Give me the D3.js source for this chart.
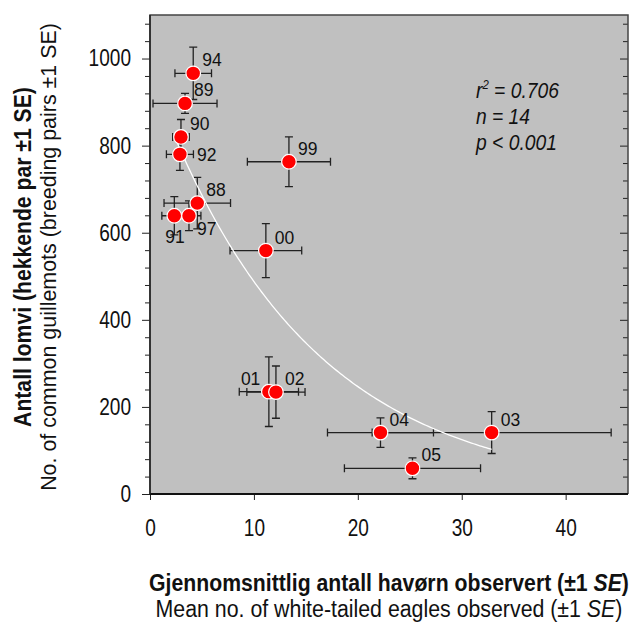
<!DOCTYPE html>
<html>
<head>
<meta charset="utf-8">
<script src="https://cdn.jsdelivr.net/npm/d3@7"></script>
<style>
  body { margin: 0; background: #fff; }
  svg text { font-family: "Liberation Sans", Arial, sans-serif; fill: #111; }
  .tick line { stroke: #222; }
</style>
</head>
<body>
<div id="chartContainer"></div>
<script>
// Values
const years = ['88', '89', '90', '91', '92', '94', '97', '99', '00', '01', '02', '03', '04', '05'];
const eagles = [4.55, 3.37, 2.98, 2.34, 2.88, 4.16, 3.75, 13.37, 11.15, 11.44, 12.12, 32.88, 22.18, 25.26];
const eaglesSE = [3.2, 3.08, 0.8, 1.2, 1.3, 1.76, 1.15, 4.0, 3.45, 2.85, 2.8, 11.5, 5.1, 6.55];
const guillemots = [668, 897, 820, 639, 780, 966, 639, 763, 559, 235, 234, 141, 141, 59];
const guillemotsSE = [59, 23, 40, 44, 37, 60, 34, 57, 62, 80, 60, 48, 34, 24];
const xTicks = [0, 10, 20, 30, 40];
const yTicks = [0, 200, 400, 600, 800, 1000];
// fitted curve y = a * exp(-b * x)
const fitA = 965;
const fitB = 0.0682;
const statLines = ['r2 = 0.706', 'n = 14', 'p < 0.001'];

// Dimensions
const width = 633;
const height = 626;
const margin = { top: 15, left: 150, right: 5, bottom: 132 };
const w = width - margin.left - margin.right;
const h = height - margin.top - margin.bottom;

// label placement next to each point (dx, dy from centre)
const labelOffset = { '92': [17, 7], '91': [-9, 27], '97': [8, 19], '01': [-28, -7] };

// the figure uses a condensed face: squeeze short labels to the measured width
function squeeze(sel, len) {
  sel.attr('textLength', len).attr('lengthAdjust', 'spacingAndGlyphs');
}
// longer texts: scale horizontally so the text spans len pixels
function condense(text, len) {
  const s = len / text.node().getComputedTextLength();
  text.attr('transform', `scale(${s},1)`);
}

const svg = d3
  .select('#chartContainer')
  .append('svg')
  .attr('width', width)
  .attr('height', height);

const g = svg.append('g').attr('transform', `translate(${margin.left},${margin.top})`);

const x = d3.scaleLinear().domain([0, 46]).range([0, w]);
const y = d3.scaleLinear().domain([0, 1100]).range([h, 0]);

const data = years.map((yr, i) => ({
  year: yr,
  x: eagles[i],
  xse: eaglesSE[i],
  y: guillemots[i],
  yse: guillemotsSE[i]
}));

// plot background
g.append('rect')
  .attr('width', w)
  .attr('height', h)
  .attr('fill', '#c0c0c0');

// Axes
const minorY = d3.range(0, 1100, 40).filter(v => v % 200 !== 0);

g.append('g')
  .call(d3.axisLeft(y).tickValues(minorY).tickSize(5).tickFormat(''))
  .call(a => a.select('.domain').remove());
g.append('g')
  .attr('class', 'y axis')
  .call(d3.axisLeft(y).tickValues(yTicks).tickSize(8).tickPadding(11).tickSizeOuter(0).tickFormat(d3.format('d')))
  .call(a => a.select('.domain').remove())
  .selectAll('text')
  .style('font-size', '23px')
  .each(function() { squeeze(d3.select(this), this.textContent.length * 10.6); });

// right side, ticks pointing inward
g.append('g')
  .attr('transform', `translate(${w},0)`)
  .call(d3.axisLeft(y).tickValues(minorY).tickSize(5).tickFormat(''))
  .call(a => a.select('.domain').remove());
g.append('g')
  .attr('transform', `translate(${w},0)`)
  .call(d3.axisLeft(y).tickValues(yTicks).tickSize(8).tickFormat(''))
  .call(a => a.select('.domain').remove());

g.append('g')
  .attr('class', 'x axis')
  .attr('transform', `translate(0,${h})`)
  .call(d3.axisBottom(x).tickValues(xTicks).tickSize(6).tickPadding(20).tickSizeOuter(0))
  .call(a => a.select('.domain').remove())
  .selectAll('text')
  .style('font-size', '23px')
  .each(function() { squeeze(d3.select(this), this.textContent.length * 10.6); });

// frame
g.append('path')
  .attr('d', `M0,${h}V0H${w}V${h}`)
  .attr('fill', 'none')
  .attr('stroke', '#444')
  .attr('stroke-width', 1.5);
g.append('line')
  .attr('x1', 0).attr('x2', w)
  .attr('y1', h).attr('y2', h)
  .attr('stroke', '#111')
  .attr('stroke-width', 2.2);
g.append('line')
  .attr('x1', 0).attr('x2', 0)
  .attr('y1', 0).attr('y2', h)
  .attr('stroke', '#222')
  .attr('stroke-width', 1.5);

// Error bars
const cap = 4;
const bars = g.append('g')
  .attr('stroke', '#222')
  .attr('stroke-width', 1.3)
  .attr('fill', 'none');
bars.selectAll('.xerr')
  .data(data)
  .enter()
  .append('path')
  .attr('class', 'xerr')
  .attr('d', d => {
    const x0 = x(d.x - d.xse), x1 = x(d.x + d.xse), cy = y(d.y);
    return `M${x0},${cy}H${x1}M${x0},${cy - cap}V${cy + cap}M${x1},${cy - cap}V${cy + cap}`;
  });
bars.selectAll('.yerr')
  .data(data)
  .enter()
  .append('path')
  .attr('class', 'yerr')
  .attr('d', d => {
    const y0 = y(d.y - d.yse), y1 = y(d.y + d.yse), cx = x(d.x);
    return `M${cx},${y0}V${y1}M${cx - cap},${y0}H${cx + cap}M${cx - cap},${y1}H${cx + cap}`;
  });

// fitted curve
const fitX = d3.range(d3.min(eagles), d3.max(eagles), 0.2).concat([d3.max(eagles)]);
const fitLine = d3.line()
  .x(v => x(v))
  .y(v => y(fitA * Math.exp(-fitB * v)));
g.append('path')
  .attr('d', fitLine(fitX))
  .attr('fill', 'none')
  .attr('stroke', '#fff')
  .attr('stroke-width', 1.3);

// Points
g.selectAll('.dots')
  .data(data)
  .enter()
  .append('circle')
  .attr('class', 'dots')
  .attr('r', 7.3)
  .attr('cx', d => x(d.x))
  .attr('cy', d => y(d.y))
  .attr('fill', '#ff0000')
  .attr('stroke', '#fff')
  .attr('stroke-width', 1.2);

// Year labels
g.selectAll('.yr')
  .data(data)
  .enter()
  .append('text')
  .attr('class', 'yr')
  .attr('x', d => x(d.x) + (labelOffset[d.year] || [9, -7])[0])
  .attr('y', d => y(d.y) + (labelOffset[d.year] || [9, -7])[1])
  .style('font-size', '17.5px')
  .text(d => d.year);

// statistics
const statWidths = [83, 54, 81];
const st = g.append('g')
  .attr('transform', 'translate(326,83)')
  .append('text')
  .style('font-size', '22px')
  .style('font-style', 'italic');
st.append('tspan').text('r');
st.append('tspan').attr('dy', -9).style('font-size', '13px').text('2');
st.append('tspan').attr('dy', 9).text(' ' + statLines[0].slice(3));
condense(st, statWidths[0]);
statLines.slice(1).forEach((s, i) => {
  g.append('g')
    .attr('transform', `translate(326,${109 + i * 26})`)
    .append('text')
    .style('font-size', '22px')
    .style('font-style', 'italic')
    .text(s)
    .call(condense, statWidths[i + 1]);
});

// Axis titles
const cx = margin.left + w / 2;
const t1 = svg.append('g')
  .attr('transform', `translate(${cx},591)`)
  .append('text')
  .attr('text-anchor', 'middle')
  .style('font-size', '23px')
  .style('font-weight', 'bold')
  .text('Gjennomsnittlig antall havørn observert (±1 ');
t1.append('tspan').style('font-style', 'italic').text('SE');
t1.append('tspan').text(')');
condense(t1, 480);
const t2 = svg.append('g')
  .attr('transform', `translate(${cx},617)`)
  .append('text')
  .attr('text-anchor', 'middle')
  .style('font-size', '23px')
  .text('Mean no. of white-tailed eagles observed (±1 ');
t2.append('tspan').style('font-style', 'italic').text('SE');
t2.append('tspan').text(')');
condense(t2, 467);

const cy = 257;
svg.append('g')
  .attr('transform', `translate(31,${cy}) rotate(-90)`)
  .append('text')
  .attr('text-anchor', 'middle')
  .style('font-size', '23px')
  .style('font-weight', 'bold')
  .text('Antall lomvi (hekkende par ±1 SE)')
  .call(condense, 340);
svg.append('g')
  .attr('transform', `translate(56,${cy}) rotate(-90)`)
  .append('text')
  .attr('text-anchor', 'middle')
  .style('font-size', '23px')
  .text('No. of common guillemots (breeding pairs ±1 SE)')
  .call(condense, 468);
</script>
</body>
</html>
